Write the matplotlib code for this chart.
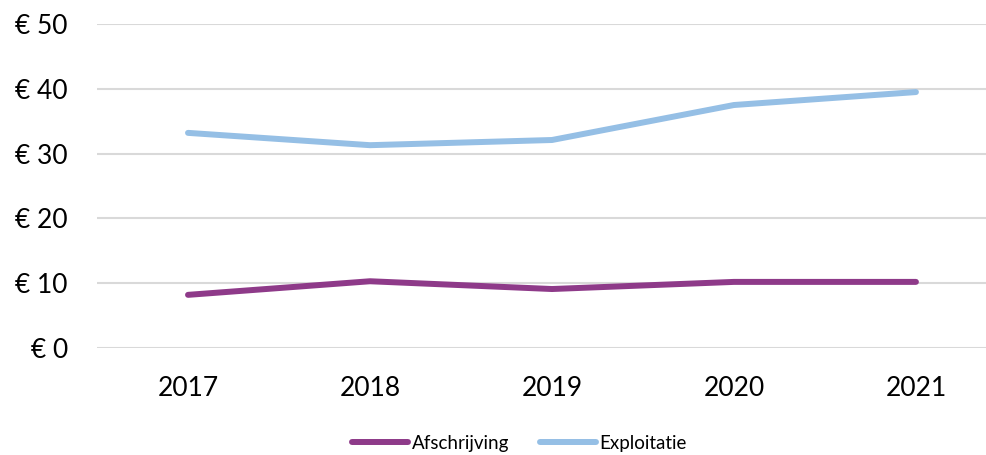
import matplotlib
matplotlib.use('Agg')
import matplotlib.pyplot as plt

jaren = ['2017', '2018', '2019', '2020', '2021']
afschrijving = [8.2, 10.3, 9.1, 10.2, 10.2]
exploitatie = [33.2, 31.3, 32.1, 37.5, 39.5]
y_ticks = [0, 10, 20, 30, 40, 50]

plt.rcParams['font.family'] = ['Lato', 'DejaVu Sans']

fig = plt.figure(figsize=(9.86, 4.55), dpi=100)
ax = fig.add_axes([0.0984, 0.2352, 0.9016, 0.712])

x = list(range(len(jaren)))
ax.plot(x, afschrijving, color='#8E3A89', linewidth=4.3, solid_capstyle='round',
        label='Afschrijving')
ax.plot(x, exploitatie, color='#95BFE5', linewidth=4.3, solid_capstyle='round',
        label='Exploitatie')

ax.set_xlim(-0.5, 4.385)
ax.set_ylim(0, 50)
ax.set_xticks(x)
ax.set_xticklabels(jaren, fontsize=19)
ax.set_yticks(y_ticks)
ax.set_yticklabels([f'€ {v}' for v in y_ticks], fontsize=19)
ax.tick_params(axis='both', length=0)
ax.tick_params(axis='y', pad=21)
ax.tick_params(axis='x', pad=20)

ax.grid(axis='y', color='#D9D9D9', linewidth=1.5)
ax.set_axisbelow(True)
for s in ax.spines.values():
    s.set_visible(False)

fig.legend(loc='lower center', bbox_to_anchor=(0.527, -0.03), ncol=2, frameon=False,
           fontsize=13.5, handlelength=3.0, handletextpad=0.2, columnspacing=1.6)

plt.savefig('out.png', dpi=100)
plt.close()
